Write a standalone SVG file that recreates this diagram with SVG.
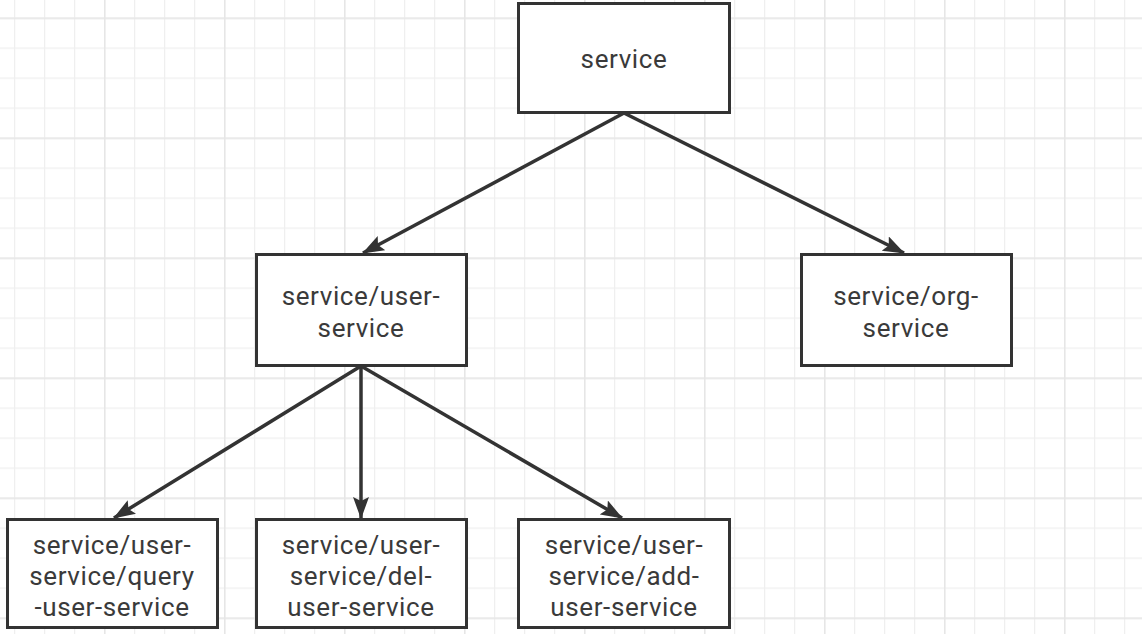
<svg xmlns="http://www.w3.org/2000/svg" width="1142" height="634" viewBox="0 0 1142 634">
<defs>
<pattern id="minor" width="30" height="30" patternUnits="userSpaceOnUse" x="14" y="17.5">
<path d="M0.5 0 V30 M0 0.5 H30" fill="none" stroke="#efefef" stroke-width="1.5"/>
</pattern>
<pattern id="major" width="120" height="120" patternUnits="userSpaceOnUse" x="104" y="137.5">
<path d="M0.5 0 V120 M0 0.5 H120" fill="none" stroke="#e6e6e6" stroke-width="2"/>
</pattern>
<marker id="arrow" viewBox="0 0 22 16" refX="21" refY="8" markerWidth="22" markerHeight="16" markerUnits="userSpaceOnUse" orient="auto">
<path d="M0 0 L22 8 L0 16 L4 8 Z" fill="#333"/>
</marker>
</defs>
<style>
.box{fill:#fff;stroke:#333;stroke-width:3}
.lbl{font-family:Roboto,"Open Sans",sans-serif;font-size:26px;letter-spacing:0.6px;fill:#3a3a3a;text-anchor:middle}
.edge{stroke:#333;stroke-width:3.5;fill:none;marker-end:url(#arrow)}
</style>
<rect width="1142" height="634" fill="#fff"/>
<rect width="1142" height="634" fill="url(#minor)"/>
<rect width="1142" height="634" fill="url(#major)"/>
<g id="connectors">
<line class="edge" x1="624" y1="113" x2="363" y2="253"/>
<line class="edge" x1="624" y1="113" x2="904" y2="253"/>
<line class="edge" x1="361" y1="366" x2="114" y2="518"/>
<line class="edge" x1="361" y1="366" x2="361" y2="518"/>
<line class="edge" x1="361" y1="366" x2="622" y2="518"/>
</g>
<g id="service">
<rect class="box" x="518.5" y="3.5" width="211" height="109"/>
<text class="lbl" x="624" y="68">service</text>
</g>
<g id="user-service">
<rect class="box" x="256.5" y="254.5" width="210" height="111"/>
<text class="lbl" x="361" y="305">service/user-</text>
<text class="lbl" x="361" y="337">service</text>
</g>
<g id="org-service">
<rect class="box" x="801.5" y="254.5" width="210" height="111"/>
<text class="lbl" x="906" y="305">service/org-</text>
<text class="lbl" x="906" y="337">service</text>
</g>
<g id="query-user-service">
<rect class="box" x="7.5" y="519.5" width="210" height="108"/>
<text class="lbl" x="112" y="554">service/user-</text>
<text class="lbl" x="112" y="585">service/query</text>
<text class="lbl" x="112" y="616">-user-service</text>
</g>
<g id="del-user-service">
<rect class="box" x="256.5" y="519.5" width="210" height="108"/>
<text class="lbl" x="361" y="554">service/user-</text>
<text class="lbl" x="361" y="585">service/del-</text>
<text class="lbl" x="361" y="616">user-service</text>
</g>
<g id="add-user-service">
<rect class="box" x="518.5" y="519.5" width="211" height="108"/>
<text class="lbl" x="624" y="554">service/user-</text>
<text class="lbl" x="624" y="585">service/add-</text>
<text class="lbl" x="624" y="616">user-service</text>
</g>
</svg>
